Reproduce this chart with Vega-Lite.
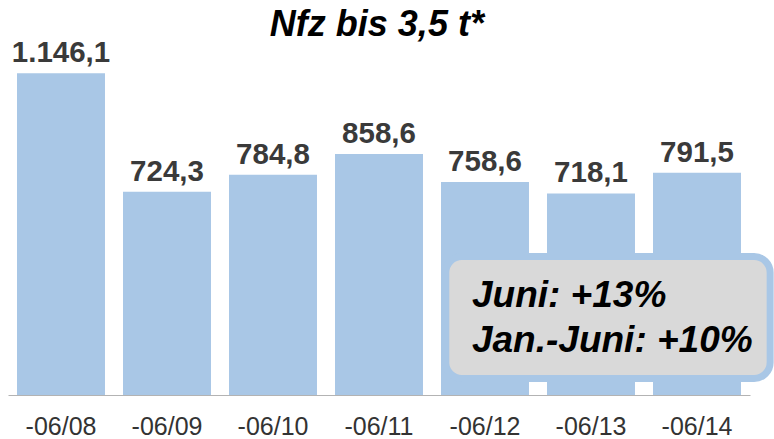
{
  "$schema": "https://vega.github.io/schema/vega-lite/v6.json",
  "width": 742,
  "height": 395,
  "autosize": {"type": "none"},
  "padding": {"left": 8, "top": 0, "right": 24, "bottom": 44},
  "background": "white",
  "config": {
    "view": {"stroke": null},
    "font": "Liberation Sans",
    "locale": {"number": {"decimal": ",", "thousands": ".", "grouping": [3], "currency": ["", " €"]}}
  },
  "datasets": {
    "bars": [
      {"period": "-06/08", "value": 1146.1},
      {"period": "-06/09", "value": 724.3},
      {"period": "-06/10", "value": 784.8},
      {"period": "-06/11", "value": 858.6},
      {"period": "-06/12", "value": 758.6},
      {"period": "-06/13", "value": 718.1},
      {"period": "-06/14", "value": 791.5}
    ],
    "box": [{"x0": 4.13, "x1": 7.19, "y0": 58.8, "y1": 493}],
    "notes": [
      {"xpos": 4.377, "ypos": 313.5, "label": "Juni: +13%"},
      {"xpos": 4.377, "ypos": 153, "label": "Jan.-Juni: +10%"}
    ],
    "heading": [{"xpos": 3.48, "ypos": 1279, "label": "Nfz bis 3,5 t*"}]
  },
  "layer": [
    {
      "data": {"name": "bars"},
      "encoding": {
        "x": {
          "field": "period", "type": "nominal", "sort": null,
          "scale": {"paddingInner": 0.17, "paddingOuter": 0.085},
          "axis": {
            "title": null, "ticks": false, "tickSize": 0, "labelAngle": 0,
            "labelFontSize": 25, "labelColor": "#333333", "labelPadding": 19,
            "domainColor": "#b3b3b3", "domainWidth": 1.2, "grid": false
          }
        },
        "y": {
          "field": "value", "type": "quantitative",
          "scale": {"domain": [0, 1407], "nice": false, "zero": true},
          "axis": null
        }
      },
      "layer": [
        {"mark": {"type": "bar", "color": "#a9c7e6"}},
        {
          "mark": {"type": "text", "fontSize": 29.5, "fontWeight": "bold", "color": "#3a3a3a", "baseline": "alphabetic", "dy": -11},
          "encoding": {"text": {"field": "value", "type": "quantitative", "format": ",.1f"}}
        }
      ]
    },
    {
      "data": {"name": "box"},
      "mark": {"type": "rect", "fill": "#d9d9d9", "stroke": "#a9c7e6", "strokeWidth": 7, "cornerRadius": 16},
      "encoding": {
        "x": {"field": "x0", "type": "quantitative", "scale": {"domain": [0, 7], "nice": false, "zero": true}, "axis": null},
        "x2": {"field": "x1"},
        "y": {"field": "y0", "type": "quantitative"},
        "y2": {"field": "y1"}
      }
    },
    {
      "data": {"name": "notes"},
      "mark": {"type": "text", "fontSize": 37, "fontWeight": "bold", "fontStyle": "italic", "color": "#000000", "align": "left", "baseline": "alphabetic"},
      "encoding": {
        "x": {"field": "xpos", "type": "quantitative", "scale": {"domain": [0, 7], "nice": false, "zero": true}, "axis": null},
        "y": {"field": "ypos", "type": "quantitative"},
        "text": {"field": "label", "type": "nominal"}
      }
    },
    {
      "data": {"name": "heading"},
      "mark": {"type": "text", "fontSize": 36, "fontWeight": "bold", "fontStyle": "italic", "color": "#000000", "align": "center", "baseline": "alphabetic"},
      "encoding": {
        "x": {"field": "xpos", "type": "quantitative", "scale": {"domain": [0, 7], "nice": false, "zero": true}, "axis": null},
        "y": {"field": "ypos", "type": "quantitative"},
        "text": {"field": "label", "type": "nominal"}
      }
    }
  ],
  "resolve": {"scale": {"x": "independent"}, "axis": {"x": "independent"}}
}
